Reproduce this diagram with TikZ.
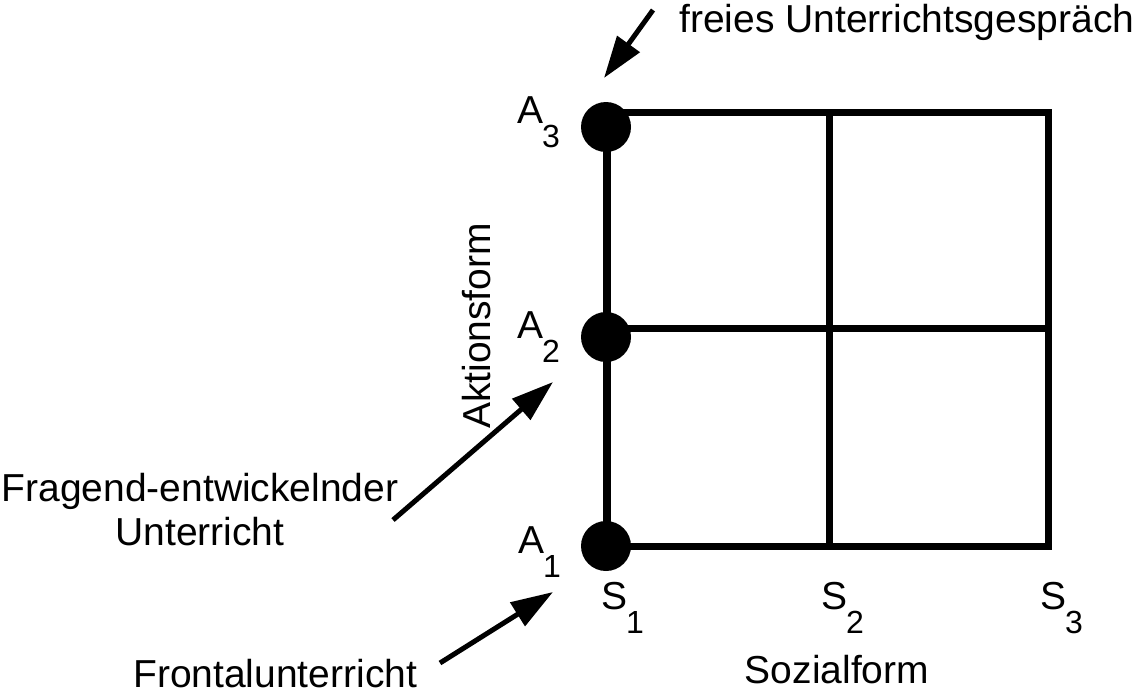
\documentclass[tikz,border=0pt]{standalone}
\usepackage{fontspec}
\setmainfont{Liberation Sans}
\usetikzlibrary{arrows.meta}
\newcommand\idxlab[2]{#1\kern-1pt\raisebox{-24pt}{\fontsize{32}{34}\selectfont #2}}
\begin{document}
\begin{tikzpicture}[x=1pt,y=-1pt,
  font=\fontsize{39}{44}\selectfont,
  gridline/.style={line width=7pt, line join=miter},
  dotnode/.style={circle, fill=black, inner sep=0pt, minimum size=50pt},
  lbl/.style={inner sep=0pt, anchor=base west},
  pointer/.style={line width=5pt, -{Triangle[length=42pt,width=27pt]}}]
\useasboundingbox (0,0) rectangle (1140,699);
% grid
\draw[gridline] (607,112) rectangle (1048,546);
\draw[gridline] (607,328) -- (1048,328);
\draw[gridline] (829,112) -- (829,550);
% dots
\node[dotnode] (d3) at (606,127) {};
\node[dotnode] (d2) at (606,337) {};
\node[dotnode] (d1) at (606,546) {};
\draw[gridline] (d3.center) -- (d1.center);
% A labels
\node[lbl] (a3) at (517,123) {\idxlab{A}{3}};
\node[lbl] (a2) at (517,338) {\idxlab{A}{2}};
\node[lbl] (a1) at (518,553) {\idxlab{A}{1}};
% S labels
\node[lbl] (s1) at (601,609) {\idxlab{S}{1}};
\node[lbl] (s2) at (821,609) {\idxlab{S}{2}};
\node[lbl] (s3) at (1040,609) {\idxlab{S}{3}};
% axis titles
\node[inner sep=0pt, anchor=base] (soz) at (837,683) {Sozialform};
\node[inner sep=0pt, anchor=base, rotate=90] (akt) at (490,326) {Aktionsform};
% annotation texts
\node[lbl] (frei) at (679,32) {freies Unterrichtsgespräch};
\node[inner sep=0pt, anchor=base, align=center] (frag) at (200,545) {Fragend-entwickelnder\\Unterricht};
\node[lbl] (front) at (133,687) {Frontalunterricht};
% arrows
\coordinate (t3s) at (653,10);  \coordinate (t3e) at (604,78);
\coordinate (t2s) at (393,520); \coordinate (t2e) at (553,382);
\coordinate (t1s) at (440,663); \coordinate (t1e) at (553,592);
\draw[pointer] (t3s) -- (t3e);
\draw[pointer] (t2s) -- (t2e);
\draw[pointer] (t1s) -- (t1e);
\end{tikzpicture}
\end{document}
